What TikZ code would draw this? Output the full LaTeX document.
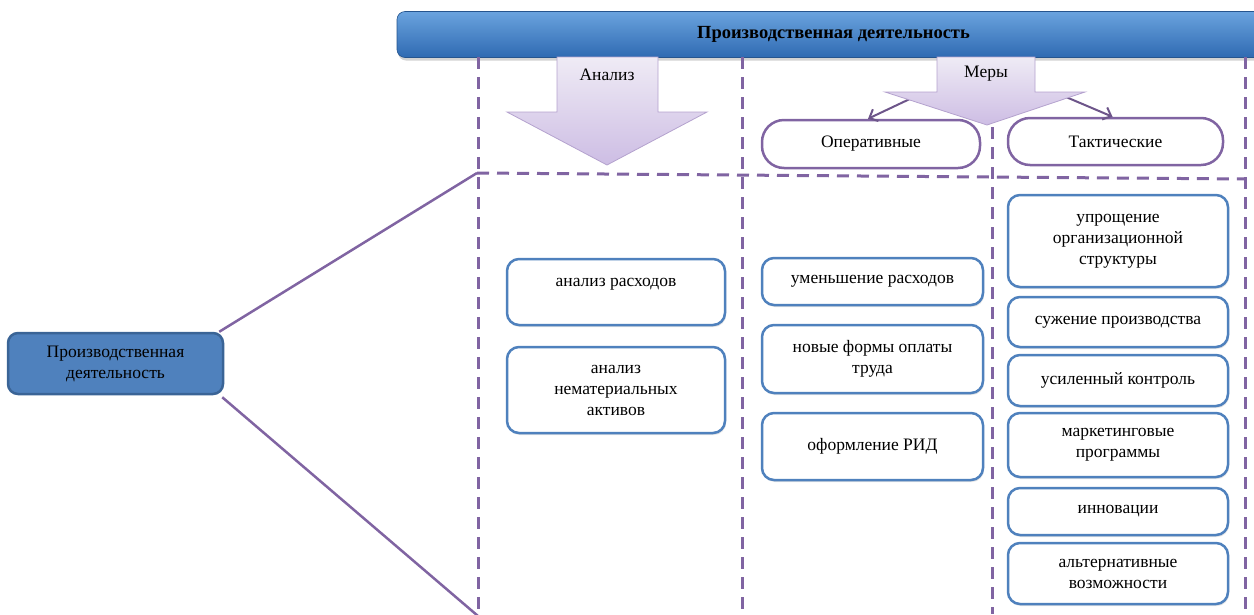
\documentclass[tikz,border=0pt]{standalone}
\usepackage{fontspec}
\setmainfont{Liberation Serif}
\usetikzlibrary{arrows.meta,shadows}
\definecolor{vio}{HTML}{8064A2}
\definecolor{bbord}{HTML}{4F81BD}
\definecolor{pdfill}{HTML}{4F81BD}
\definecolor{pdbord}{HTML}{3A6496}
\definecolor{bantop}{HTML}{6AA3DE}
\definecolor{banbot}{HTML}{2F6AB2}
\definecolor{artop}{HTML}{EFEBF5}
\definecolor{arbot}{HTML}{CDBDE4}
\definecolor{arbord}{HTML}{B4A2CE}
\tikzset{
  txt/.style={font=\fontsize{17.5}{21}\selectfont, align=center, inner sep=0pt},
  bbox/.style={txt, draw=bbord, line width=2.5pt, rounded corners=12pt, fill=white,
     drop shadow={opacity=0.2, shadow xshift=1pt, shadow yshift=-2pt}},
  pill/.style={txt, draw=vio, line width=2.5pt, rounded corners=22pt, fill=white},
  dsh/.style={draw=vio, line width=3pt, dash pattern=on 12pt off 8pt},
  conn/.style={draw=vio, line width=2.5pt},
  smarr/.style={draw=vio!85!black, line width=2pt, -{Straight Barb[length=7pt,width=13pt,line width=2pt]}},
  blockarr/.style={top color=artop, bottom color=arbot, draw=arbord, line width=0.8pt},
}
\begin{document}
\begin{tikzpicture}[x=1pt,y=-1pt]
\useasboundingbox (0,0) rectangle (1254,614);
% banner
\node[draw=banbot!80!black, line width=0.6pt, top color=bantop, bottom color=banbot, rounded corners=8pt,
  minimum width=873pt, minimum height=46pt, inner sep=0pt,
  drop shadow={opacity=0.35, shadow xshift=1pt, shadow yshift=-3pt},
  font=\fontsize{18.5}{22}\selectfont\bfseries] (bn) at (833.5,34.5) {Производственная деятельность};
% dashed frame
\draw[dsh] (478,57) -- (478,614);
\draw[dsh] (742,57) -- (742,614);
\draw[dsh] (992,127) -- (992,614);
\draw[dsh] (1245,57) -- (1245,614);
\draw[dsh] (477,173) -- (1246,179);
% pills
\node[pill, minimum width=218pt, minimum height=48pt] (op) at (871,144) {Оперативные};
\node[pill, minimum width=215pt, minimum height=47pt] (tk) at (1115.5,141.5) {Тактические};
% small arrows
\coordinate (ml) at (914,97);
\coordinate (mr) at (1066,97);
\draw[smarr] (ml) -- ([xshift=-3pt]op.north);
\draw[smarr] (mr) -- ([xshift=-3pt]tk.north);
% block arrows
\draw[blockarr] (557,57) -- (658,57) -- (658,112) -- (707,112) -- (607,165) -- (507,112) -- (557,112) -- cycle;
\node[txt] (lan) at (607,75) {Анализ};
\draw[blockarr] (937,57) -- (1035,57) -- (1035,92) -- (1085,92) -- (987,125) -- (885,92) -- (937,92) -- cycle;
\node[txt] (lme) at (986,74) {Меры};
% left node
\node[txt, draw=pdbord, line width=2.5pt, fill=pdfill, rounded corners=10pt,
  minimum width=215pt, minimum height=61pt] (pd) at (115.5,363.5) {Производственная\\деятельность};
\coordinate (c1) at (477,173);
\coordinate (c2) at (478,616);
\draw[conn] ([xshift=-5pt]pd.north east) -- (c1);
\draw[conn] ([xshift=-2pt,yshift=-2pt]pd.south east) -- (c2);
% analysis column
\node[bbox, minimum width=218pt, minimum height=66pt] (a1) at (616,292) {\raisebox{8pt}[\height][\depth]{анализ расходов}};
\node[bbox, minimum width=218pt, minimum height=86pt] (a2) at (616,390) {анализ\\нематериальных\\активов};
% operational column
\node[bbox, minimum width=221pt, minimum height=47pt] (m1) at (872.5,281.5) {уменьшение расходов};
\node[bbox, minimum width=221pt, minimum height=68pt] (m2) at (872.5,359) {новые формы оплаты\\труда};
\node[bbox, minimum width=221pt, minimum height=67pt] (m3) at (872.5,446.5) {оформление РИД};
% tactical column
\node[bbox, minimum width=220pt, minimum height=92pt] (t1) at (1118,241) {упрощение\\организационной\\структуры};
\node[bbox, minimum width=220pt, minimum height=50pt] (t2) at (1118,322) {сужение производства};
\node[bbox, minimum width=220pt, minimum height=51pt] (t3) at (1118,380.5) {усиленный контроль};
\node[bbox, minimum width=220pt, minimum height=64pt] (t4) at (1118,445) {маркетинговые\\программы};
\node[bbox, minimum width=220pt, minimum height=47pt] (t5) at (1118,511.5) {инновации};
\node[bbox, minimum width=220pt, minimum height=61pt] (t6) at (1118,573.5) {альтернативные\\возможности};
\end{tikzpicture}
\end{document}
